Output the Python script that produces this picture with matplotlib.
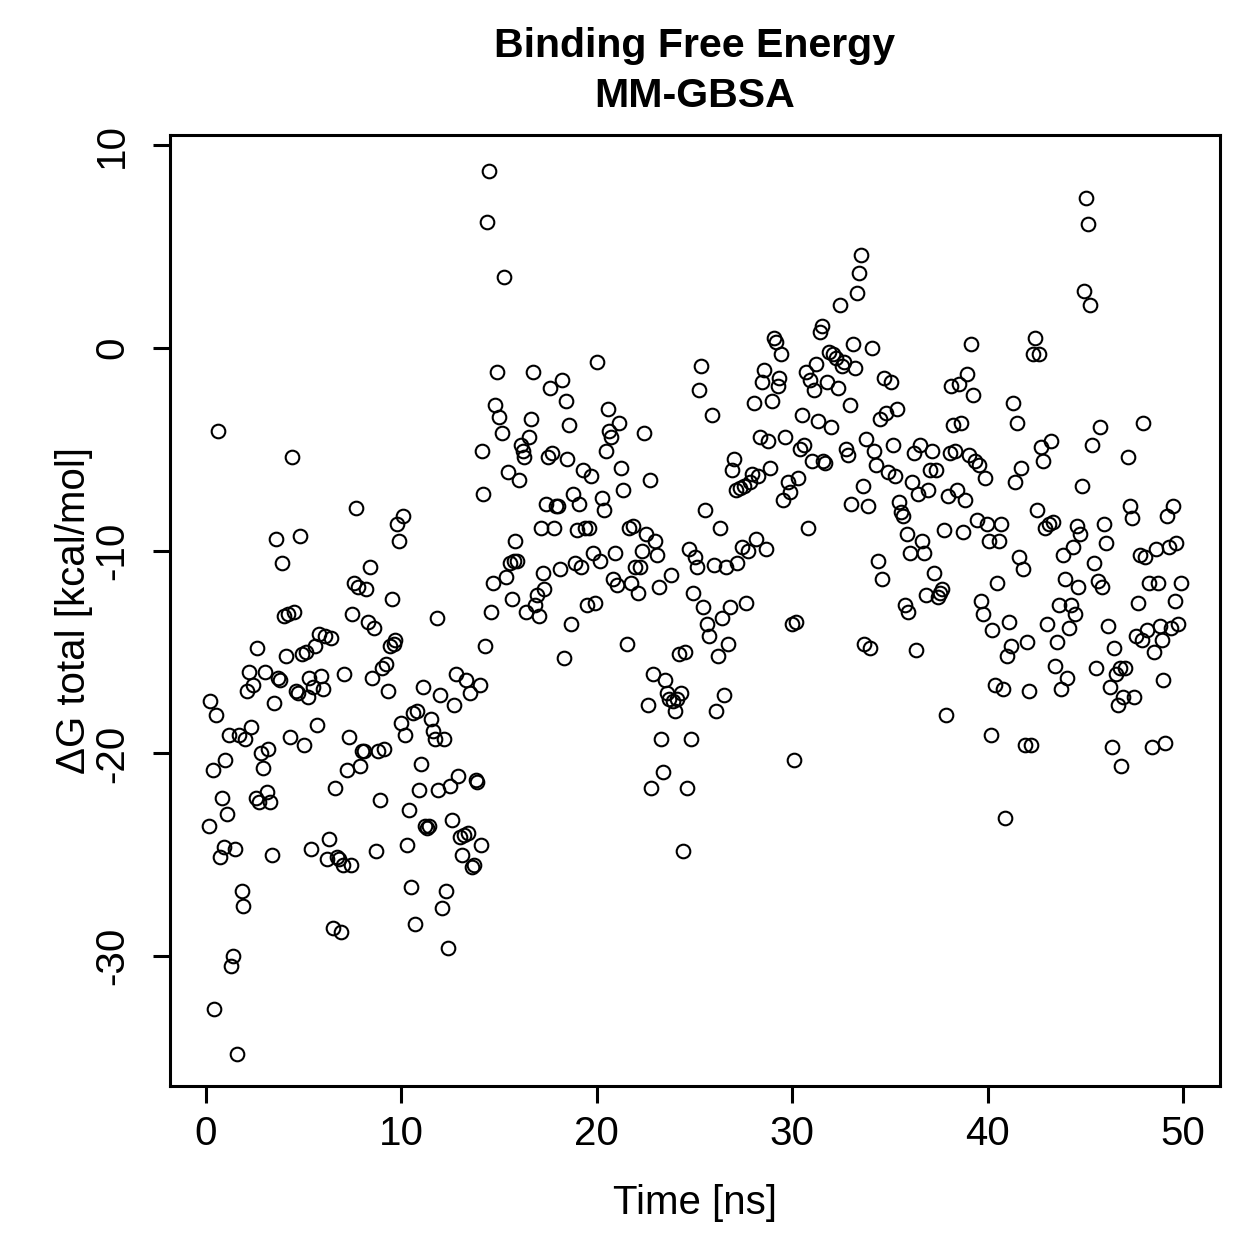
import numpy as np
import matplotlib
matplotlib.use("Agg")
import matplotlib.pyplot as plt

plt.rcParams['font.family'] = ['Liberation Sans', 'DejaVu Sans']

# time [ns] and dG total [kcal/mol]
time_ns = [
    0.15, 0.2, 0.35, 0.4, 0.5, 0.6, 0.7, 0.8, 0.9, 1.0, 1.1, 1.2, 1.3, 1.4, 1.5, 1.6, 1.7, 1.85, 1.9, 2.0,
    2.1, 2.2, 2.3, 2.4, 2.55, 2.6, 2.7, 2.8, 2.9, 3.0, 3.1, 3.2, 3.3, 3.4, 3.5, 3.6, 3.7, 3.8, 3.9, 4.0,
    4.1, 4.2, 4.3, 4.4, 4.5, 4.6, 4.7, 4.8, 4.9, 5.0,
    5.1, 5.2, 5.3, 5.4, 5.5, 5.6, 5.7, 5.8, 5.9, 6.0, 6.1, 6.2, 6.3, 6.4, 6.5, 6.6, 6.7, 6.8, 6.9, 7.0,
    7.05, 7.2, 7.3, 7.4, 7.5, 7.6, 7.7, 7.8, 7.9, 8.0, 8.1, 8.2, 8.3, 8.4, 8.5, 8.6, 8.7, 8.8, 8.9, 9.0,
    9.1, 9.2, 9.3, 9.4, 9.5, 9.6, 9.7, 9.8, 9.9, 10.0,
    10.1, 10.2, 10.3, 10.4, 10.5, 10.6, 10.7, 10.8, 10.9, 11.0, 11.1, 11.2, 11.3, 11.4, 11.5, 11.6, 11.7, 11.8, 11.9, 12.0,
    12.1, 12.2, 12.3, 12.4, 12.5, 12.6, 12.7, 12.8, 12.9, 13.0, 13.1, 13.2, 13.3, 13.4, 13.5, 13.6, 13.7, 13.8, 13.85, 14.0,
    14.1, 14.15, 14.2, 14.3, 14.4, 14.5, 14.6, 14.7, 14.8, 14.9, 15.0,
    15.15, 15.25, 15.35, 15.45, 15.55, 15.65, 15.75, 15.8, 15.9, 16.0, 16.1, 16.2, 16.3, 16.4, 16.55, 16.65, 16.75, 16.85, 16.95, 17.05,
    17.15, 17.25, 17.3, 17.4, 17.5, 17.6, 17.7, 17.8, 17.9, 18.0, 18.1, 18.2, 18.3, 18.4, 18.5, 18.6, 18.7, 18.8, 18.9, 19.0,
    19.1, 19.2, 19.3, 19.4, 19.5, 19.6, 19.7, 19.8, 19.9, 20.0,
    20.15, 20.25, 20.35, 20.45, 20.55, 20.65, 20.75, 20.85, 20.95, 21.05, 21.15, 21.25, 21.35, 21.55, 21.65, 21.75, 21.85, 21.95, 22.1, 22.2,
    22.3, 22.4, 22.5, 22.6, 22.7, 22.8, 22.9, 23.0, 23.1, 23.2, 23.3, 23.4, 23.5, 23.6, 23.7, 23.8, 23.9, 24.0, 24.1, 24.2,
    24.3, 24.4, 24.5, 24.6, 24.7, 24.8, 24.9, 25.05, 25.15, 25.25,
    25.35, 25.45, 25.55, 25.65, 25.75, 25.9, 26.0, 26.1, 26.2, 26.3, 26.4, 26.5, 26.6, 26.7, 26.8, 26.9, 27.0, 27.1, 27.2, 27.35,
    27.45, 27.55, 27.65, 27.75, 27.85, 27.95, 28.05, 28.15, 28.25, 28.35, 28.45, 28.55, 28.65, 28.75, 28.85, 28.95, 29.05, 29.15, 29.25, 29.35,
    29.45, 29.55, 29.65, 29.8, 29.9, 30.0, 30.1, 30.2, 30.3, 30.4,
    30.5, 30.6, 30.7, 30.8, 30.9, 31.0, 31.1, 31.2, 31.3, 31.4, 31.5, 31.6, 31.7, 31.8, 31.9, 32.0, 32.1, 32.25, 32.35, 32.45,
    32.55, 32.65, 32.75, 32.85, 32.95, 33.0, 33.1, 33.2, 33.3, 33.4, 33.5, 33.6, 33.7, 33.8, 33.9, 34.0, 34.1, 34.2, 34.3, 34.4,
    34.5, 34.6, 34.7, 34.8, 34.9, 35.05, 35.15, 35.25, 35.35, 35.45,
    35.55, 35.65, 35.75, 35.85, 35.95, 36.05, 36.15, 36.25, 36.35, 36.45, 36.55, 36.65, 36.75, 36.85, 36.95, 37.05, 37.15, 37.25, 37.35, 37.45,
    37.55, 37.65, 37.75, 37.85, 37.95, 38.05, 38.15, 38.25, 38.35, 38.45, 38.55, 38.65, 38.75, 38.85, 38.95, 39.05, 39.15, 39.25, 39.35, 39.45,
    39.55, 39.65, 39.75, 39.85, 39.95, 40.05, 40.15, 40.25, 40.4, 40.5,
    40.6, 40.7, 40.8, 40.9, 41.0, 41.1, 41.2, 41.3, 41.4, 41.5, 41.6, 41.7, 41.8, 41.9, 42.0, 42.1, 42.2, 42.3, 42.4, 42.55,
    42.65, 42.75, 42.85, 42.95, 43.05, 43.15, 43.25, 43.35, 43.45, 43.55, 43.65, 43.75, 43.85, 43.95, 44.05, 44.15, 44.25, 44.35, 44.45, 44.55,
    44.65, 44.75, 44.85, 44.95, 45.05, 45.15, 45.25, 45.35, 45.45, 45.55,
    45.65, 45.75, 45.85, 45.95, 46.05, 46.15, 46.25, 46.35, 46.45, 46.55, 46.65, 46.75, 46.85, 46.95, 47.05, 47.2, 47.3, 47.4, 47.5, 47.6,
    47.7, 47.8, 47.9, 47.95, 48.05, 48.15, 48.25, 48.4, 48.5, 48.6, 48.7, 48.8, 48.9, 49.0, 49.1, 49.2, 49.3, 49.4, 49.5, 49.6,
    49.65, 49.75, 49.9,
]

dg_total = [
    -23.6, -17.4, -20.8, -32.6, -18.1, -4.1, -25.1, -22.2, -24.6, -20.3, -23.0, -19.1, -30.5, -30.0, -24.7, -34.8, -19.1, -26.8, -27.5, -19.3,
    -16.9, -16.0, -18.7, -16.6, -22.2, -14.8, -22.4, -20.0, -20.7, -16.0, -21.9, -19.8, -22.4, -25.0, -17.5, -9.4, -16.3, -16.4, -10.6, -13.2,
    -15.2, -13.1, -19.2, -5.4, -13.0, -16.9, -17.0, -9.3, -15.1, -19.6,
    -15.0, -17.2, -16.3, -24.7, -16.7, -14.7, -18.6, -14.1, -16.2, -16.8, -14.2, -25.2, -24.2, -14.3, -28.6, -21.7, -25.1, -25.2, -28.8, -25.5,
    -16.1, -20.8, -19.2, -25.5, -13.1, -11.6, -7.9, -11.8, -20.6, -19.9, -19.9, -11.9, -13.5, -10.8, -16.3, -13.8, -24.8, -19.9, -22.3, -15.8,
    -19.8, -15.6, -16.9, -14.7, -12.4, -14.6, -14.4, -8.7, -9.5, -18.5,
    -8.3, -19.1, -24.5, -22.8, -26.6, -18.0, -28.4, -17.9, -21.8, -20.5, -16.7, -23.6, -23.7, -23.6, -18.3, -18.9, -19.3, -13.3, -21.8, -17.1,
    -27.6, -19.3, -26.8, -29.6, -21.6, -23.3, -17.6, -16.1, -21.1, -24.1, -25.0, -24.0, -16.4, -23.9, -17.0, -25.6, -25.5, -21.3, -21.4, -16.6,
    -24.5, -5.1, -7.2, -14.7, 6.2, 8.7, -13.0, -11.6, -2.8, -1.2, -3.4,
    -4.2, 3.5, -11.3, -6.1, -10.6, -12.4, -10.5, -9.5, -10.5, -6.5, -4.8, -5.1, -5.4, -13.0, -4.4, -3.5, -1.2, -12.7, -12.2, -13.2,
    -8.9, -11.1, -11.9, -7.7, -5.4, -2.0, -5.2, -8.9, -7.8, -7.8, -10.9, -1.6, -15.3, -2.6, -5.5, -3.8, -13.6, -7.2, -10.6, -9.0,
    -7.7, -10.8, -6.0, -8.9, -12.7, -8.9, -6.3, -10.1, -12.6, -0.7,
    -10.5, -7.4, -8.0, -5.1, -3.0, -4.1, -4.4, -11.4, -10.1, -11.7, -3.7, -5.9, -7.0, -14.6, -8.9, -11.6, -8.8, -10.8, -12.1, -10.8,
    -10.0, -4.2, -9.2, -17.6, -6.5, -21.7, -16.1, -9.5, -10.2, -11.8, -19.3, -20.9, -16.4, -17.0, -17.3, -11.2, -17.4, -17.9, -17.3, -15.1,
    -17.0, -24.8, -15.0, -21.7, -9.9, -19.3, -12.1, -10.3, -10.8, -2.1,
    -0.9, -12.8, -8.0, -13.6, -14.2, -3.3, -10.7, -17.9, -15.2, -8.9, -13.3, -17.1, -10.8, -14.6, -12.8, -6.0, -5.5, -7.0, -10.6, -6.9,
    -9.8, -6.8, -12.6, -10.0, -6.6, -6.2, -2.7, -9.4, -6.3, -4.4, -1.7, -1.1, -9.9, -4.6, -5.9, -2.6, 0.5, 0.3, -1.9, -1.5,
    -0.3, -7.5, -4.4, -6.6, -7.1, -13.6, -20.3, -13.5, -6.4, -5.0,
    -3.3, -4.8, -1.2, -8.9, -1.6, -5.6, -2.1, -0.8, -3.6, 0.8, 1.1, -5.6, -5.7, -1.7, -0.2, -3.9, -0.3, -0.5, -2.0, 2.1,
    -0.9, -0.7, -5.0, -5.3, -2.8, -7.7, 0.2, -1.0, 2.7, 3.7, 4.6, -6.8, -14.6, -4.5, -7.8, -14.8, 0.0, -5.1, -5.8, -10.5,
    -3.5, -11.4, -1.5, -3.2, -6.1, -1.7, -4.8, -6.3, -3.0, -7.6,
    -8.1, -8.3, -12.7, -9.2, -13.0, -10.1, -6.6, -5.2, -14.9, -7.2, -4.8, -9.5, -10.1, -12.2, -7.0, -6.0, -5.1, -11.1, -6.0, -12.3,
    -12.1, -11.9, -9.0, -18.1, -7.3, -5.2, -1.9, -3.8, -5.1, -7.0, -1.8, -3.7, -9.1, -7.5, -1.3, -5.3, 0.2, -2.3, -5.6, -8.5,
    -5.8, -12.5, -13.1, -6.4, -8.7, -9.5, -19.1, -13.9, -16.6, -11.6,
    -9.5, -8.7, -16.8, -23.2, -15.2, -13.5, -14.7, -2.7, -6.6, -3.7, -10.3, -5.9, -10.9, -19.6, -14.5, -16.9, -19.6, -0.3, 0.5, -8.0,
    -0.3, -4.9, -5.6, -8.9, -13.6, -8.7, -4.6, -8.6, -15.7, -14.5, -12.7, -16.8, -10.2, -11.4, -16.3, -13.8, -12.7, -9.8, -13.1, -8.8,
    -11.8, -9.2, -6.8, 2.8, 7.4, 6.1, 2.1, -4.8, -10.6, -15.8,
    -11.5, -3.9, -11.8, -8.7, -9.6, -13.7, -16.7, -19.7, -14.8, -16.1, -17.6, -15.8, -20.6, -17.2, -15.8, -5.4, -7.8, -8.4, -17.2, -14.2,
    -12.6, -10.2, -14.4, -3.7, -10.3, -13.9, -11.6, -19.7, -15.0, -9.9, -11.6, -13.7, -14.4, -16.4, -19.5, -8.3, -9.8, -13.8, -7.8, -12.5,
    -9.6, -13.6, -11.6,
]

x_ticks = [0, 10, 20, 30, 40, 50]
y_ticks = [-30, -20, -10, 0, 10]

fig = plt.figure(figsize=(6.295, 6.295), dpi=200)
ax = fig.add_axes([0.135, 0.1374, 0.834, 0.7554])

ax.plot(time_ns, dg_total, linestyle='none', marker='o', markersize=4.9,
        markerfacecolor='none', markeredgecolor='black', markeredgewidth=0.75)

ax.set_xlim(-1.84, 51.89)
ax.set_ylim(-36.4, 10.5)
ax.set_xticks(x_ticks)
ax.set_yticks(y_ticks)
ax.set_yticklabels([str(v) for v in y_ticks], rotation=90, va='center')
ax.tick_params(direction='out', length=6, width=1.1, labelsize=14.5)
ax.tick_params(axis='x', pad=4.5)
ax.tick_params(axis='y', pad=8)
for s in ax.spines.values():
    s.set_linewidth(1.1)

ax.set_xlabel('Time [ns]', fontsize=14.5, labelpad=11)
ax.set_ylabel('\u0394G total [kcal/mol]', fontsize=14.5, labelpad=0)
ax.set_title('Binding Free Energy\nMM-GBSA', fontsize=14.8, fontweight='bold', pad=10, linespacing=1.4)

fig.savefig('out.png', dpi=200)
